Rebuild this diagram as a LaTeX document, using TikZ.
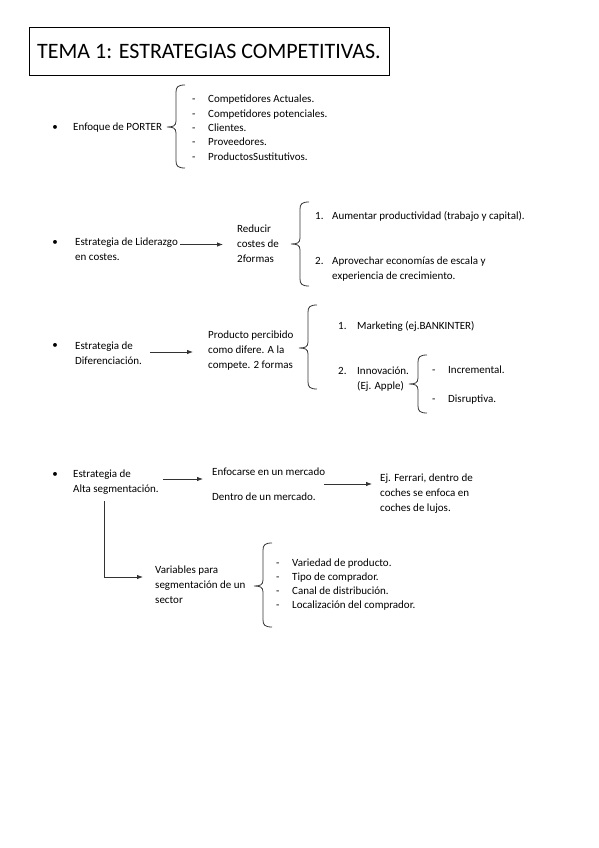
\documentclass[tikz,border=0pt]{standalone}
\usepackage{fontspec}
\setmainfont{Carlito}
\usetikzlibrary{positioning}
\usetikzlibrary{calc}
\usetikzlibrary{arrows.meta}

% left curly brace: x, top, bottom, tip
\newcommand{\brce}[4]{%
  \draw[brc] ({#1+9},#2) .. controls ({#1+2},#2) and (#1,{#2+2}) .. (#1,{#2+7})
    -- (#1,{#4-6}) .. controls (#1,{#4-1}) and ({#1-3},#4) .. ({#1-9},#4)
    .. controls ({#1-3},#4) and (#1,{#4+1}) .. (#1,{#4+6})
    -- (#1,{#3-7}) .. controls (#1,{#3-2}) and ({#1+2},#3) .. ({#1+9},#3);}
\newcommand{\dsh}{\makebox[16pt][l]{-}}

\begin{document}
\begin{tikzpicture}
    [x=1pt, y=-1pt,
    every node/.style={inner sep=0pt, font=\fontsize{11}{15}\selectfont},
    txt/.style={anchor=base west, align=left},
    lst/.style={anchor=base west, align=left, font=\fontsize{11}{14.5}\selectfont},
    bul/.style={anchor=base},
    title/.style={draw, line width=0.9pt, minimum width=360pt, minimum height=48pt, font=\fontsize{22}{26}\selectfont},
    arr/.style={-{Latex[length=6pt,width=4.5pt]}, line width=0.8pt, black!80},
    brc/.style={line width=0.8pt, black!80}]
    \useasboundingbox (0,0) rectangle (599,848);
    \node[title] (tit) at (209,51) {TEMA 1: ESTRATEGIAS COMPETITIVAS.};
    % Porter
    \node[bul] (b1) at (55,130.5) {\textbullet};
    \node[txt] (por) at (73,130.5) {Enfoque de PORTER};
    \brce{176}{85}{168}{127}
    \node[lst] (porl) at (192,160.5) {\dsh Competidores Actuales.\\ \dsh Competidores potenciales.\\ \dsh Clientes.\\ \dsh Proveedores.\\ \dsh ProductosSustitutivos.};
    % Liderazgo en costes
    \node[bul] (b2) at (55,245.5) {\textbullet};
    \node[txt] (lid) at (75,260.5) {Estrategia de Liderazgo\\en costes.};
    \node[txt] (red) at (237,262.5) {Reducir\\costes de\\2formas};
    \draw[arr] ($(lid.base east)+(2,-16)$) -- ($(lid.base east -| red.west)+(-14,-16)$);
    \brce{300}{202}{286}{244}
    \node[txt] (n1) at (315,219.5) {1.};
    \node[txt] (aum) at (332,219.5) {Aumentar productividad (trabajo y capital).};
    \node[txt] (n2) at (315,264.5) {2.};
    \node[txt] (apr) at (332,279.5) {Aprovechar economías de escala y\\experiencia de crecimiento.};
    % Diferenciacion
    \node[bul] (b3) at (55,348.5) {\textbullet};
    \node[txt] (dif) at (75,364.5) {Estrategia de\\Diferenciación.};
    \node[txt] (pro) at (208,368.5) {Producto percibido\\como difere. A la\\compete. 2 formas};
    \draw[arr] ($(dif.base east)+(8,-12.5)$) -- ($(dif.base east -| pro.west)+(-15,-12.5)$);
    \brce{308}{305}{389}{348}
    \node[txt] (n3) at (338,329.5) {1.};
    \node[txt] (mkt) at (357,329.5) {Marketing (ej.BANKINTER)};
    \node[txt] (n4) at (338,374.5) {2.};
    \node[txt] (inn) at (357,389.5) {Innovación.\\(Ej. Apple)};
    \brce{418}{355}{413}{384}
    \node[txt] (d1) at (432,373.5) {-};
    \node[txt] (inc) at (448,373.5) {Incremental.};
    \node[txt] (d2) at (432,402.5) {-};
    \node[txt] (dis) at (448,402.5) {Disruptiva.};
    % Alta segmentacion
    \node[bul] (b4) at (55,477.5) {\textbullet};
    \node[txt] (seg) at (73,492.5) {Estrategia de\\Alta segmentación.};
    \node[txt] (enf) at (212,475.5) {Enfocarse en un mercado};
    \node[txt] (den) at (212,500.5) {Dentro de un mercado.};
    \node[txt] (fer) at (380,511.5) {Ej. Ferrari, dentro de\\coches se enfoca en\\coches de lujos.};
    \draw[arr] ($(seg.base east)+(4,-13.5)$) -- ($(seg.base east -| enf.west)+(-9,-13.5)$);
    \draw[arr] ($(den.east |- fer.base west)+(8,-27.5)$) -- ($(fer.base west)+(-8,-27.5)$);
    \node[txt] (var) at (155,603.5) {Variables para\\segmentación de un\\sector};
    \draw[arr] ($(seg.base west)+(31,8.5)$) |- ($(var.base west)+(-12,-26.5)$);
    \brce{263}{543}{627}{586}
    \node[lst, font=\fontsize{11}{14}\selectfont] (varl) at (276,608.5) {\dsh Variedad de producto.\\ \dsh Tipo de comprador.\\ \dsh Canal de distribución.\\ \dsh Localización del comprador.};
\end{tikzpicture}
\end{document}
